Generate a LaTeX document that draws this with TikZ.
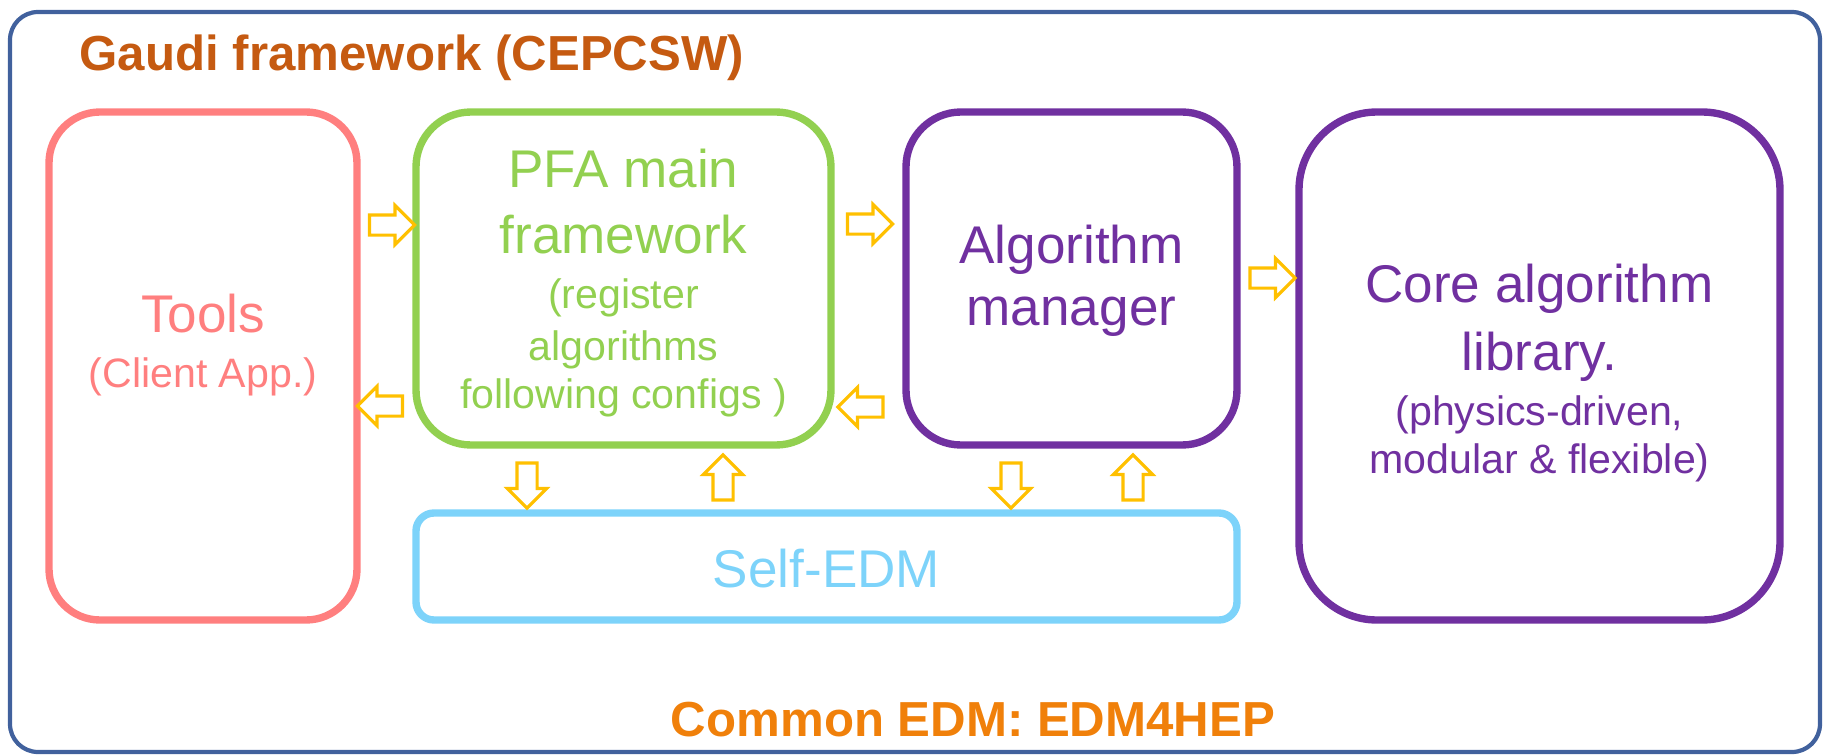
\documentclass[tikz,border=0pt]{standalone}
\usepackage{fontspec}
\setmainfont{Liberation Sans}
\usetikzlibrary{shapes.arrows}

\definecolor{gaudiorange}{RGB}{197,90,17}
\definecolor{edmorange}{RGB}{240,128,10}
\definecolor{frameblue}{RGB}{65,97,157}
\definecolor{toolred}{RGB}{255,127,127}
\definecolor{pfagreen}{RGB}{146,208,80}
\definecolor{algpurple}{RGB}{112,48,160}
\definecolor{edmblue}{RGB}{125,211,250}
\definecolor{arrowgold}{RGB}{255,192,0}

\newcommand{\bigtxt}{\fontsize{15.1}{18}\selectfont}
\newcommand{\smalltxt}{\fontsize{11.7}{14}\selectfont}
\newcommand{\headtxt}{\fontsize{14.0}{17}\selectfont\bfseries}

\begin{document}
\begin{tikzpicture}[
  box/.style={draw, line width=2.1pt, inner sep=0pt},
  flow/.style={single arrow, draw=arrowgold, fill=white, line width=0.9pt,
    minimum height=0.45cm, inner xsep=0pt, inner ysep=0.085cm,
    single arrow head extend=0.095cm, single arrow tip angle=90},
  label/.style={anchor=base, inner sep=0pt}
]

\useasboundingbox (0,0) rectangle (18.23,-7.56);

\node[draw=frameblue, line width=1.2pt, rounded corners=0.28cm, minimum width=18.10cm, minimum height=7.40cm] (gaudi) at (9.15,-3.82) {};

\node[label, anchor=base west, text=gaudiorange] (gauditxt) at (0.79,-0.70) {\headtxt Gaudi framework (CEPCSW)};
\node[label, text=edmorange] (commontxt) at (9.73,-7.36) {\headtxt Common EDM: EDM4HEP};

\node[box, draw=toolred, rounded corners=0.51cm, minimum width=3.08cm, minimum height=5.08cm] (tools) at (2.03,-3.66) {};
\node[box, draw=pfagreen, rounded corners=0.55cm, minimum width=4.15cm, minimum height=3.33cm] (pfa) at (6.235,-2.785) {};
\node[box, draw=algpurple, rounded corners=0.55cm, minimum width=3.31cm, minimum height=3.33cm] (algmgr) at (10.715,-2.785) {};
\node[box, draw=algpurple, rounded corners=0.78cm, minimum width=4.81cm, minimum height=5.08cm] (core) at (15.395,-3.66) {};
\node[box, draw=edmblue, rounded corners=0.18cm, minimum width=8.21cm, minimum height=1.07cm] (selfedm) at (8.265,-5.665) {};

\node[label, text=toolred] (tools1) at (2.03,-3.32) {\bigtxt Tools};
\node[label, text=toolred] (tools2) at (2.03,-3.87) {\smalltxt (Client App.)};

\node[label, text=pfagreen] (pfa1) at (6.235,-1.87) {\bigtxt PFA main};
\node[label, text=pfagreen] (pfa2) at (6.235,-2.53) {\bigtxt framework};
\node[label, text=pfagreen] (pfa3) at (6.235,-3.08) {\smalltxt (register};
\node[label, text=pfagreen] (pfa4) at (6.235,-3.60) {\smalltxt algorithms};
\node[label, text=pfagreen] (pfa5) at (6.235,-4.08) {\smalltxt following configs )};

\node[label, text=algpurple] (alg1) at (10.715,-2.63) {\bigtxt Algorithm};
\node[label, text=algpurple] (alg2) at (10.715,-3.25) {\bigtxt manager};

\node[label, text=algpurple] (core1) at (15.395,-3.02) {\bigtxt Core algorithm};
\node[label, text=algpurple] (core2) at (15.395,-3.70) {\bigtxt library.};
\node[label, text=algpurple] (core3) at (15.395,-4.25) {\smalltxt (physics-driven,};
\node[label, text=algpurple] (core4) at (15.395,-4.73) {\smalltxt modular \& flexible)};

\node[label, text=edmblue] (self1) at (8.265,-5.87) {\bigtxt Self-EDM};

\node[flow] (a1) at (3.87,-2.25) {};
\node[flow, rotate=180] (a2) at (3.85,-4.06) {};
\node[flow] (a3) at (8.65,-2.24) {};
\node[flow, rotate=180] (a4) at (8.655,-4.07) {};
\node[flow] (a5) at (12.675,-2.78) {};
\node[flow, rotate=-90] (a6) at (5.27,-4.805) {};
\node[flow, rotate=90] (a7) at (7.23,-4.825) {};
\node[flow, rotate=-90] (a8) at (10.11,-4.805) {};
\node[flow, rotate=90] (a9) at (11.33,-4.825) {};

\end{tikzpicture}
\end{document}
